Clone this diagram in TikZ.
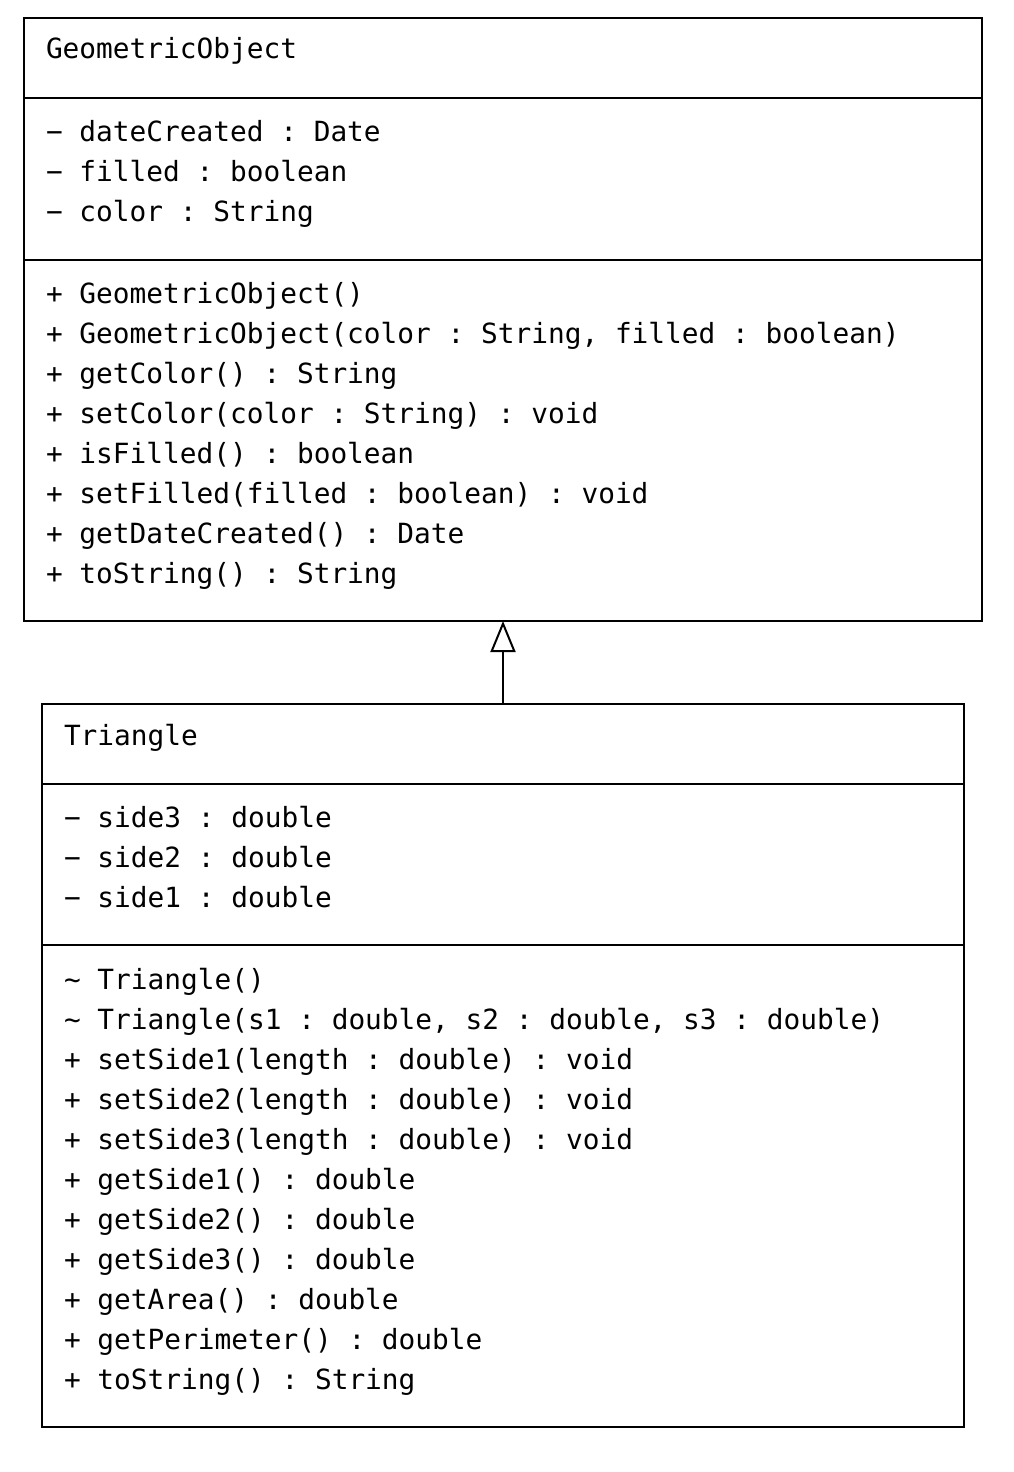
\documentclass[tikz,border=0pt]{standalone}
\usepackage{fontspec}
\setmonofont{DejaVu Sans Mono}
\usetikzlibrary{positioning,arrows.meta}

\begin{document}
\begin{tikzpicture}[x=1pt, y=-1pt, line width=2pt,
	classbox/.style={draw, rectangle, inner sep=0pt, outer sep=0pt},
	members/.style={anchor=base west, align=left, inner sep=0pt, font=\fontsize{27.8}{40}\selectfont\ttfamily}]
				\useasboundingbox (0,0) rectangle (1014,1472);
				% classes
				\node[classbox, minimum width=958pt, minimum height=603pt, anchor=north west] (geo) at (24,18) {};
				\node[classbox, minimum width=922pt, minimum height=723pt, below=83pt of geo] (tri) {};
				\draw (24,98) -- (982,98);
				\draw (24,260) -- (982,260);
				\draw (42,784) -- (964,784);
				\draw (42,945) -- (964,945);
				% GeometricObject (base = last line)
				\node[members] (geoname) at (45,59) {GeometricObject};
				\node[members] (geoattr) at (45,221) {− dateCreated : Date\\− filled : boolean\\− color : String};
				\node[members] (geoops) at (45,583) {+ GeometricObject()\\+ GeometricObject(color : String, filled : boolean)\\+ getColor() : String\\+ setColor(color : String) : void\\+ isFilled() : boolean\\+ setFilled(filled : boolean) : void\\+ getDateCreated() : Date\\+ toString() : String};
				% Triangle
				\node[members] (triname) at (63,745) {Triangle};
				\node[members] (triattr) at (63,907) {− side3 : double\\− side2 : double\\− side1 : double};
				\node[members] (triops) at (63,1389) {\textasciitilde{} Triangle()\\\textasciitilde{} Triangle(s1 : double, s2 : double, s3 : double)\\+ setSide1(length : double) : void\\+ setSide2(length : double) : void\\+ setSide3(length : double) : void\\+ getSide1() : double\\+ getSide2() : double\\+ getSide3() : double\\+ getArea() : double\\+ getPerimeter() : double\\+ toString() : String};
				% generalization
				\draw[-{Triangle[open, length=31pt, width=25pt]}] (tri.north) -- (geo.south);
\end{tikzpicture}
\end{document}
